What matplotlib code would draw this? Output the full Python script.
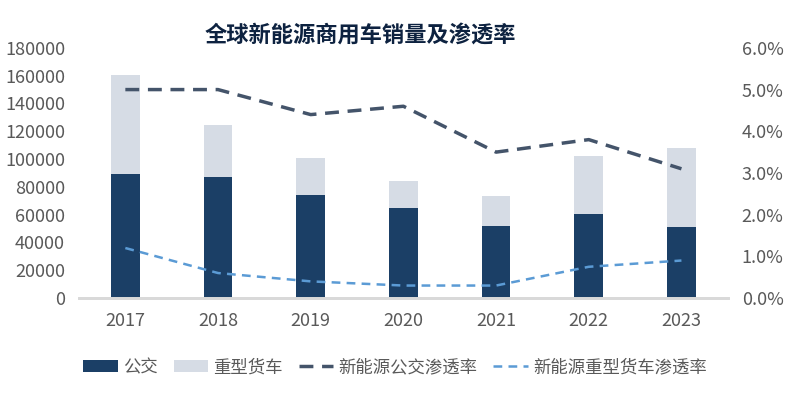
import numpy as np
import matplotlib
matplotlib.use('Agg')
import matplotlib.pyplot as plt
from matplotlib.ticker import FuncFormatter

plt.rcParams['font.family'] = ['Noto Sans CJK SC', 'DejaVu Sans']

years = ['2017', '2018', '2019', '2020', '2021', '2022', '2023']
bus = [89000, 87000, 74000, 65000, 52000, 60700, 51000]
truck = [71500, 37500, 26800, 19200, 21500, 41500, 57000]
bus_rate = [5.0, 5.0, 4.4, 4.6, 3.5, 3.8, 3.1]
truck_rate = [1.2, 0.6, 0.4, 0.3, 0.3, 0.75, 0.9]

x = np.arange(len(years))
grey = '#595959'

fig = plt.figure(figsize=(7.98, 3.99), dpi=100)
ax = fig.add_axes([0.099, 0.253, 0.813, 0.627])

b1 = ax.bar(x, bus, width=0.31, color='#1b3f66', label='公交', zorder=2)
b2 = ax.bar(x, truck, width=0.31, bottom=bus, color='#d6dce5', label='重型货车', zorder=2)
ax.set_ylim(0, 180000)
ax.set_yticks(np.arange(0, 180001, 20000))
ax.set_xlim(-0.5, 6.5)
ax.set_xticks(x)
ax.set_xticklabels(years)

ax2 = ax.twinx()
l1, = ax2.plot(x, bus_rate, color='#44546a', lw=2.5, dashes=(4, 2.5), label='新能源公交渗透率')
l2, = ax2.plot(x, truck_rate, color='#5b9bd5', lw=1.8, dashes=(3.5, 2.5), label='新能源重型货车渗透率')
ax2.set_ylim(0, 6)
ax2.set_yticks(np.arange(0, 6.01, 1))
ax2.yaxis.set_major_formatter(FuncFormatter(lambda v, p: '%.1f%%' % v))

for a in (ax, ax2):
    for s in ['top', 'right', 'left']:
        a.spines[s].set_visible(False)
    a.spines['bottom'].set_color('#d9d9d9')
    a.spines['bottom'].set_linewidth(2)
    a.tick_params(length=0, labelsize=13, colors=grey)
ax.tick_params(axis='x', pad=10)
ax.tick_params(axis='y', pad=10)
ax2.tick_params(axis='y', pad=10)

fig.text(0.451, 0.91, '全球新能源商用车销量及渗透率', ha='center', va='center',
         fontsize=16, fontweight='bold', color='#0d2240')

fig.legend([b1, b2, l1, l2], ['公交', '重型货车', '新能源公交渗透率', '新能源重型货车渗透率'],
           loc='center', bbox_to_anchor=(0.495, 0.08), ncol=4, frameon=False,
           fontsize=12.5, labelcolor=grey, handlelength=2.0, handletextpad=0.3,
           columnspacing=0.9)

plt.savefig('out.png', dpi=100)
